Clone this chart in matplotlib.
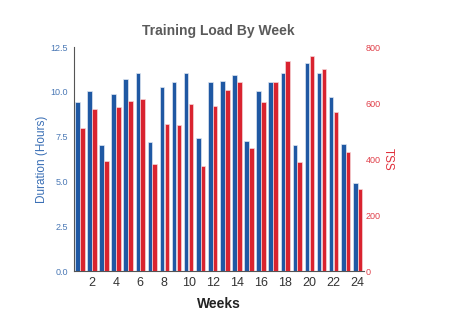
import numpy as np
import matplotlib
matplotlib.use("Agg")
import matplotlib.pyplot as plt

plt.rcParams['font.family'] = ['Liberation Sans', 'DejaVu Sans']

weeks = np.arange(1, 25)
duration = [9.45, 10.03, 7.01, 9.86, 10.70, 11.03, 7.18, 10.25, 10.53, 11.03, 7.44, 10.53,
            10.60, 10.94, 7.25, 10.03, 10.53, 11.03, 7.01, 11.61, 11.03, 9.69, 7.09, 4.93]
tss = [510, 579, 393, 585, 606, 614, 384, 527, 522, 595, 376, 589,
       646, 675, 438, 604, 677, 750, 390, 767, 721, 567, 425, 294]

blue = '#1f58a3'
red = '#d9232f'

fig = plt.figure(figsize=(4.67, 3.27), dpi=100)
ax = fig.add_axes([0.158, 0.171, 0.621, 0.685])
ax2 = ax.twinx()

w = 0.38
ax.bar(weeks - 0.2, duration, width=w, color=blue, edgecolor='#dfe7f2', linewidth=0.5)
ax2.bar(weeks + 0.2, tss, width=w, color=red, edgecolor='#f5d5d8', linewidth=0.5)

ax.set_xlim(0.5, 24.5)
ax.set_ylim(0, 12.5)
ax2.set_ylim(0, 800)
ax.set_yticks(np.arange(0, 12.6, 2.5))
ax.set_yticklabels([f'{v:.1f}' for v in np.arange(0, 12.6, 2.5)])
ax2.set_yticks(np.arange(0, 801, 200))
ax.set_xticks(np.arange(2, 25, 2))

ax.tick_params(axis='y', length=0, labelsize=6.5, labelcolor='#4a78b5', pad=4)
ax2.tick_params(axis='y', length=0, labelsize=6.5, labelcolor='#e0404a', pad=1.5)
ax.tick_params(axis='x', length=0, labelsize=9, labelcolor='#333333', pad=4)

for a in (ax, ax2):
    a.spines['top'].set_visible(False)
    a.spines['right'].set_visible(False)
ax2.spines['left'].set_visible(False)
ax2.spines['bottom'].set_visible(False)
ax.spines['left'].set_color('#555555')
ax.spines['bottom'].set_color('#555555')

ax.set_ylabel('Duration (Hours)', color='#3a6fb5', fontsize=8.5, labelpad=2)
ax2.set_ylabel('TSS', color='#e0303c', fontsize=8.5, rotation=270, labelpad=9)
ax.set_xlabel('Weeks', fontsize=10, fontweight='bold', color='#222222', labelpad=6)
ax.set_title('Training Load By Week', fontsize=10, fontweight='bold', color='#5a5a5a', pad=9)

fig.savefig('out.png', dpi=100)
